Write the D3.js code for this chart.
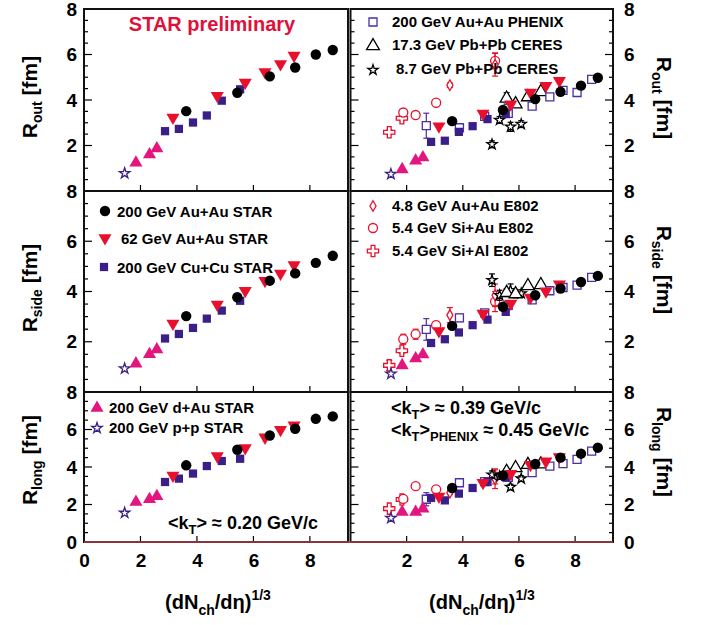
<!DOCTYPE html>
<html>
<head>
<meta charset="utf-8">
<script src="https://cdn.jsdelivr.net/npm/d3@7"></script>
<style>
body { margin: 0; background: #fff; }
text { font-family: "Liberation Sans", Arial, Helvetica, sans-serif; font-weight: bold; }
</style>
</head>
<body>
<svg width="712" height="625"></svg>
<script>
// x = (dNch/deta)^(1/3)
var xPP = [1.44];
var xDAu = [1.84, 2.32, 2.58];
var xCuCu = [2.87, 3.36, 3.86, 4.35, 4.88, 5.53];
var xAuAu62 = [3.15, 4.72, 5.71, 6.41, 6.96, 7.44];
var xAuAu200 = [3.62, 5.43, 6.58, 7.48, 8.21, 8.81];
var xPhenix = [2.70, 3.88, 4.78, 5.62, 6.47, 7.10, 7.57, 8.07, 8.59];
var xCeres17 = [5.56, 5.88, 6.32, 6.78];
var xCeres8 = [5.04, 5.31, 5.70, 6.08];
var xE802AuAu = [3.54, 5.15];
var xE802SiAu = [1.88, 2.32, 3.05, 5.15];
var xE802SiAl = [1.38, 1.83];

// STAR, <kT> ~ 0.20 GeV/c (left column). rows: Rout, Rside, Rlong
var ppLo = [[0.78], [0.93], [1.55]];
var dauLo = [[1.24, 1.60, 1.87], [1.13, 1.50, 1.69], [2.13, 2.28, 2.44]];
var cucuLo = [[2.63, 2.73, 3.01, 3.32, 3.97, 4.47], [2.13, 2.31, 2.55, 2.92, 3.24, 3.63], [3.20, 3.38, 3.65, 4.05, 4.32, 4.44]];
var auau62Lo = [[3.23, 4.19, 4.77, 5.23, 5.58, 5.95], [2.73, 3.48, 4.03, 4.43, 4.72, 5.05], [3.55, 4.58, 5.01, 5.58, 5.99, 6.22]];
var auau200Lo = [[3.51, 4.32, 5.04, 5.43, 6.00, 6.20], [3.02, 3.77, 4.43, 4.72, 5.14, 5.42], [4.09, 4.92, 5.68, 6.04, 6.57, 6.70]];

// STAR, <kT> ~ 0.39 GeV/c (right column)
var ppHi = [[0.74], [0.72], [1.28]];
var dauHi = [[0.95, 1.33, 1.47], [1.06, 1.33, 1.49], [1.60, 1.60, 1.78]];
var cucuHi = [[2.16, 2.21, 2.60, 2.85, 3.16, 3.38], [1.95, 2.10, 2.37, 2.66, 2.88, 3.19], [2.35, 2.22, 2.58, 2.88, 3.20, 3.47]];
var auau62Hi = [[2.85, 3.41, 3.81, 4.33, 4.63, 4.85], [2.43, 3.12, 3.52, 3.76, 4.01, 4.29], [2.43, 3.16, 3.64, 4.12, 4.30, 4.53]];
var auau200Hi = [[3.07, 3.56, 4.04, 4.36, 4.63, 4.98], [2.63, 3.39, 3.85, 4.12, 4.38, 4.62], [2.88, 3.55, 4.16, 4.50, 4.71, 5.03]];

// other experiments (right column)
var phenix = [[2.87, 2.78, 3.28, 3.41, 3.73, 4.14, 4.42, 4.33, 4.91], [2.49, 2.95, 3.15, 3.45, 3.67, 4.03, 4.16, 4.25, 4.56], [2.28, 3.16, 3.22, 3.45, 3.70, 4.05, 4.18, 4.41, 4.85]];
var phenixErr = [[0.55, 0.1, 0.1, 0.1, 0.1, 0.1, 0.1, 0.1, 0.1], [0.43, 0.15, 0.1, 0.1, 0.1, 0.1, 0.1, 0.1, 0.1], [0.35, 0.2, 0.1, 0.1, 0.1, 0.1, 0.1, 0.1, 0.1]];
var ceres17 = [[4.07, 3.82, 4.13, 4.36], [3.95, 3.90, 4.22, 4.26], [3.75, 3.95, 4.12, 4.15]];
var ceres17Err = [[0.25, 0.1, 0.1, 0.1], [0.15, 0.15, 0.1, 0.1], [0.15, 0.1, 0.1, 0.1]];
var ceres8 = [[2.05, 3.12, 2.82, 2.94], [4.45, 3.85, 4.05, 3.92], [3.59, 3.50, 2.93, 3.38]];
var ceres8Err = [[0.15, 0.15, 0.2, 0.15], [0.25, 0.2, 0.25, 0.15], [0.2, 0.15, 0.15, 0.15]];
var e802AuAu = [[4.65, 5.55], [3.06, 3.85], [2.63, 3.35]];
var e802AuAuErr = [[0.1, 0.5], [0.3, 0.45], [0.1, 0.5]];
var e802SiAu = [[3.45, 3.34, 3.88, 5.72], [2.10, 2.30, 2.66, 3.60], [2.30, 2.98, 2.81, 3.50]];
var e802SiAuErr = [[0.1, 0.1, 0.1, 0.35], [0.2, 0.2, 0.15, 0.4], [0.1, 0.1, 0.1, 0.4]];
var e802SiAl = [[2.58, 3.20], [1.06, 1.64], [1.78, 2.27]];
var e802SiAlErr = [[0.1, 0.1], [0.2, 0.1], [0.1, 0.1]];

var yTickLabels = [[8, 6, 4, 2], [8, 6, 4, 2], [8, 6, 4, 2, 0]];
var xTickLabelsLeft = [0, 2, 4, 6, 8];
var xTickLabelsRight = [2, 4, 6, 8];

var red = "#e8112d", magenta = "#e3157e", purple = "#3b1f88", phxPurple = "#4b2fa3";

var svg = d3.select("svg");

var xScales = [
    d3.scaleLinear().domain([0, 9.35]).range([84, 348]),
    d3.scaleLinear().domain([0, 9.35]).range([350.5, 613])
];
var rows = [[9, 191], [191, 392], [392, 542]];
var yScales = rows.map(function(r) { return d3.scaleLinear().domain([0, 8]).range([r[1], r[0]]); });

// marker styles
var sym = {
    auau200: { type: d3.symbolCircle, size: 85, fill: "#000" },
    auau62:  { type: d3.symbolTriangle, size: 74, fill: red, rot: 180 },
    cucu:    { type: d3.symbolSquare, size: 68, fill: purple },
    dau:     { type: d3.symbolTriangle, size: 74, fill: magenta },
    pp:      { type: d3.symbolStar, size: 34, stroke: purple },
    phenix:  { type: d3.symbolSquare, size: 64, stroke: phxPurple },
    ceres17: { type: d3.symbolTriangle, size: 72, stroke: "#000" },
    ceres8:  { type: d3.symbolStar, size: 32, stroke: "#000" },
    e802AuAu:{ type: d3.symbolDiamond, size: 32, stroke: red },
    e802SiAu:{ type: d3.symbolCircle, size: 64, stroke: red },
    e802SiAl:{ type: d3.symbolCross, size: 70, stroke: red }
};

function marker(g, s, px, py) {
    g.append("path")
        .attr("d", d3.symbol().type(s.type).size(s.size)())
        .attr("transform", "translate(" + px + "," + py + ")" + (s.rot ? " rotate(" + s.rot + ")" : ""))
        .attr("fill", s.fill || "#fff")
        .attr("stroke", s.stroke || "none")
        .attr("stroke-width", s.stroke ? 1.3 : 0);
}

function series(g, x, y, xs, ys, s, errs) {
    xs.forEach(function(v, i) {
        if (errs) {
            var e = errs[i], col = s.stroke || s.fill;
            g.append("line").attr("x1", x(v)).attr("x2", x(v))
                .attr("y1", y(ys[i] - e)).attr("y2", y(ys[i] + e))
                .attr("stroke", col).attr("stroke-width", 1.2);
            [ys[i] - e, ys[i] + e].forEach(function(t) {
                g.append("line").attr("x1", x(v) - 3).attr("x2", x(v) + 3)
                    .attr("y1", y(t)).attr("y2", y(t))
                    .attr("stroke", col).attr("stroke-width", 1.2);
            });
        }
        marker(g, s, x(v), y(ys[i]));
    });
}

rows.forEach(function(r, ri) {
    var y = yScales[ri];
    xScales.forEach(function(x, ci) {
        var g = svg.append("g");

        // minor and major ticks on y
        var yMinor = d3.range(0, 8.01, 0.5);
        var sides = ci === 0 ? [x.range()[0]] : [x.range()[0], x.range()[1]];
        sides.forEach(function(sx) {
            var dir = sx === x.range()[0] ? 1 : -1;
            g.selectAll(null).data(yMinor).enter().append("line")
                .attr("x1", sx).attr("x2", function(d) { return sx + dir * (d % 2 === 0 ? 8 : 4); })
                .attr("y1", function(d) { return y(d); }).attr("y2", function(d) { return y(d); })
                .attr("stroke", "#000").attr("stroke-width", 1.2);
        });
        // x ticks
        g.selectAll(null).data([2, 4, 6, 8]).enter().append("line")
            .attr("x1", function(d) { return x(d); }).attr("x2", function(d) { return x(d); })
            .attr("y1", r[1]).attr("y2", r[1] - 6)
            .attr("stroke", "#000").attr("stroke-width", 1.2);

        // y labels
        if (ci === 0) {
            g.append("g").attr("transform", "translate(" + x.range()[0] + ",0)")
                .call(d3.axisLeft(y).tickValues(yTickLabels[ri]).tickSize(0).tickPadding(7))
                .call(function(a) { a.select(".domain").remove(); })
                .selectAll("text").style("font-size", "19px").attr("fill", "#000");
        } else {
            g.append("g").attr("transform", "translate(" + x.range()[1] + ",0)")
                .call(d3.axisRight(y).tickValues(yTickLabels[ri]).tickSize(0).tickPadding(11))
                .call(function(a) { a.select(".domain").remove(); })
                .selectAll("text").style("font-size", "19px").attr("fill", "#000");
        }
        // x labels on bottom row
        if (ri === 2) {
            g.append("g").attr("transform", "translate(0," + r[1] + ")")
                .call(d3.axisBottom(x).tickValues(ci === 0 ? xTickLabelsLeft : xTickLabelsRight).tickSize(0).tickPadding(12))
                .call(function(a) { a.select(".domain").remove(); })
                .selectAll("text").style("font-size", "19px").attr("fill", "#000");
        }

        var hi = ci === 1;
        if (hi) {
            series(g, x, y, xE802SiAl, e802SiAl[ri], sym.e802SiAl, e802SiAlErr[ri]);
            series(g, x, y, xE802SiAu, e802SiAu[ri], sym.e802SiAu, e802SiAuErr[ri]);
            series(g, x, y, xE802AuAu, e802AuAu[ri], sym.e802AuAu, e802AuAuErr[ri]);
            series(g, x, y, xCeres8, ceres8[ri], sym.ceres8, ceres8Err[ri]);
            series(g, x, y, xCeres17, ceres17[ri], sym.ceres17, ceres17Err[ri]);
            series(g, x, y, xPhenix, phenix[ri], sym.phenix, phenixErr[ri]);
        }
        series(g, x, y, xPP, (hi ? ppHi : ppLo)[ri], sym.pp);
        series(g, x, y, xDAu, (hi ? dauHi : dauLo)[ri], sym.dau);
        series(g, x, y, xCuCu, (hi ? cucuHi : cucuLo)[ri], sym.cucu);
        series(g, x, y, xAuAu62, (hi ? auau62Hi : auau62Lo)[ri], sym.auau62);
        series(g, x, y, xAuAu200, (hi ? auau200Hi : auau200Lo)[ri], sym.auau200);

        // frame
        g.append("rect")
            .attr("x", x.range()[0]).attr("y", r[0])
            .attr("width", x.range()[1] - x.range()[0]).attr("height", r[1] - r[0])
            .attr("fill", "none").attr("stroke", "#111").attr("stroke-width", 2);
    });
});

// bottom axis line has reddish tint
svg.append("line").attr("x1", 84).attr("x2", 613).attr("y1", 542).attr("y2", 542)
    .attr("stroke", "#b04048").attr("stroke-width", 1.5);

// axis titles
function rTitle(name, tx, ty, rot) {
    var t = svg.append("text")
        .attr("transform", "translate(" + tx + "," + ty + ") rotate(" + rot + ")")
        .attr("text-anchor", "middle").style("font-size", "21px");
    t.append("tspan").text("R");
    t.append("tspan").attr("dy", 5).style("font-size", "14px").text(name);
    t.append("tspan").attr("dy", -5).text(" [fm]");
}
rTitle("out", 37, 97, -90);
rTitle("side", 37, 288, -90);
rTitle("long", 37, 460, -90);
rTitle("out", 657, 98, 90);
rTitle("side", 657, 270, 90);
rTitle("long", 657, 452, 90);

function xTitle(cx) {
    var t = svg.append("text").attr("x", cx).attr("y", 609)
        .attr("text-anchor", "middle").style("font-size", "20px");
    t.append("tspan").text("(dN");
    t.append("tspan").attr("dy", 6).style("font-size", "14px").text("ch");
    t.append("tspan").attr("dy", -6).text("/d\u03b7)");
    t.append("tspan").attr("dy", -9).style("font-size", "14px").text("1/3");
}
xTitle(218);
xTitle(482);

// labels
svg.append("text").attr("x", 212).attr("y", 31).attr("text-anchor", "middle")
    .attr("fill", "#e0103a").style("font-size", "20px").text("STAR preliminary");

function legendRow(sx, sy, s, tx, ty, label) {
    marker(svg, s, sx, sy);
    svg.append("text").attr("x", tx).attr("y", ty).style("font-size", "15px").text(label);
}
legendRow(373, 22, sym.phenix, 392, 27, "200 GeV Au+Au PHENIX");
legendRow(373, 46, sym.ceres17, 392, 50, "17.3 GeV Pb+Pb CERES");
legendRow(373, 70, sym.ceres8, 396, 74, "8.7 GeV Pb+Pb CERES");

legendRow(105, 211, sym.auau200, 117, 217, "200 GeV Au+Au STAR");
legendRow(105, 238, sym.auau62, 121, 244, "62 GeV Au+Au STAR");
legendRow(104, 267, sym.cucu, 117, 273, "200 GeV Cu+Cu STAR");

legendRow(373, 206, sym.e802AuAu, 392, 211, "4.8 GeV Au+Au E802");
legendRow(373, 228, sym.e802SiAu, 392, 233, "5.4 GeV Si+Au E802");
legendRow(373, 251, sym.e802SiAl, 392, 256, "5.4 GeV Si+Al E802");

legendRow(97, 408, sym.dau, 109, 413, "200 GeV d+Au STAR");
legendRow(97, 428, sym.pp, 109, 433, "200 GeV p+p STAR");

function ktLabel(x, y, sub, val) {
    var t = svg.append("text").attr("x", x).attr("y", y).style("font-size", "18px");
    t.append("tspan").text("<k");
    t.append("tspan").attr("dy", 5).style("font-size", "13px").text("T");
    t.append("tspan").attr("dy", -5).text(">");
    if (sub) t.append("tspan").attr("dy", 5).style("font-size", "13px").text(sub);
    t.append("tspan").attr("dy", sub ? -5 : 0).text(" \u2248 " + val + " GeV/c");
}
ktLabel(168, 529, null, "0.20");
ktLabel(391, 414, null, "0.39");
ktLabel(391, 436, "PHENIX", "0.45");
</script>
</body>
</html>
